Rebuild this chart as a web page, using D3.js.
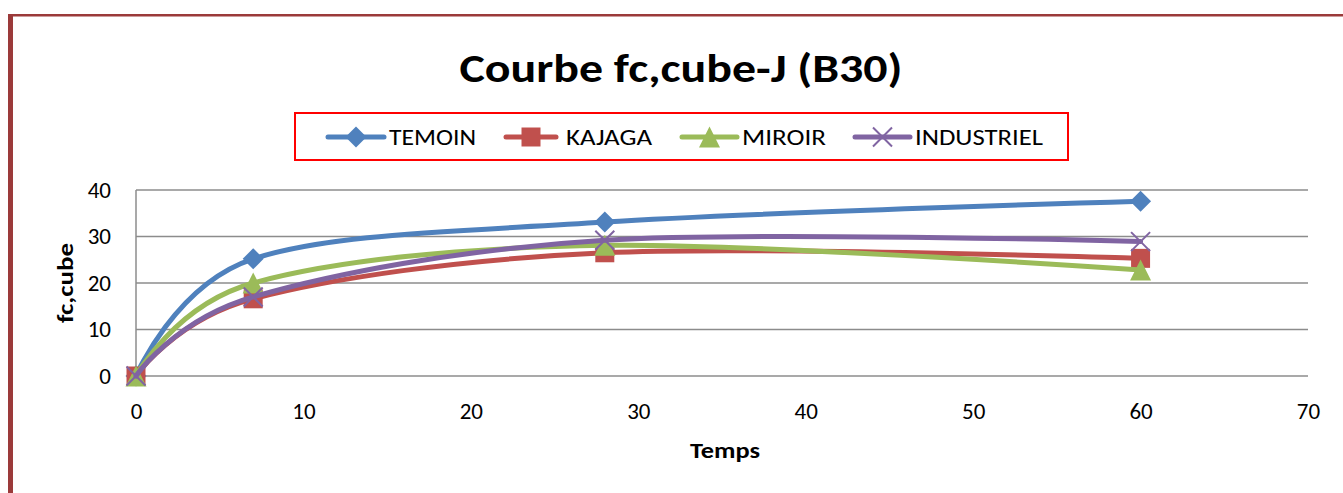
<!DOCTYPE html>
<html><head><meta charset="utf-8">
<script src="https://cdn.jsdelivr.net/npm/d3@7"></script>
<style>
html,body{margin:0;padding:0;background:#fff;}
svg{display:block;font-family:Carlito,Lato,"Open Sans",sans-serif;}
</style></head>
<body>
<script>
const days = [0, 7, 28, 60];
const seriesNames = ["TEMOIN", "KAJAGA", "MIROIR", "INDUSTRIEL"];
const temoin = [0, 25.2, 33.1, 37.6];
const kajaga = [0, 16.6, 26.5, 25.3];
const miroir = [0, 20.0, 28.1, 22.8];
const industriel = [0, 17.0, 29.2, 28.9];
const xTicks = [0, 10, 20, 30, 40, 50, 60, 70];
const yTicks = [0, 10, 20, 30, 40];
const colors = ["#4f81bd", "#c0504d", "#9bbb59", "#8064a2"];
const markers = ["diamond", "square", "triangle", "cross"];
const allValues = [temoin, kajaga, miroir, industriel];

const W = 1343, H = 493;
const FONT = "Carlito,Lato,'Open Sans',sans-serif";
const svg = d3.select("body").append("svg").attr("width", W).attr("height", H);

// outer border (dark red)
svg.append("rect").attr("x", 8).attr("y", 14).attr("width", W).attr("height", 2.5).attr("fill", "#9b3a3a");
svg.append("rect").attr("x", 8).attr("y", 14).attr("width", 5).attr("height", H).attr("fill", "#9b3a3a");

const x = d3.scaleLinear().domain([0, 70]).range([136, 1308]);
const y = d3.scaleLinear().domain([0, 40]).range([376, 190]);

// title
svg.append("text").attr("x", 681).attr("y", 82).attr("text-anchor", "middle")
  .attr("font-size", 40).attr("font-weight", "bold").attr("fill", "#000")
  .attr("textLength", 443).attr("lengthAdjust", "spacingAndGlyphs")
  .text("Courbe fc,cube-J (B30)");

// gridlines
svg.append("g").selectAll("line").data(yTicks).join("line")
  .attr("x1", x(0)).attr("x2", x(70))
  .attr("y1", d => y(d)).attr("y2", d => y(d))
  .attr("stroke", "#8c8c8c").attr("stroke-width", 1.5);
svg.append("line").attr("x1", x(0)).attr("x2", x(0)).attr("y1", y(0)).attr("y2", y(40))
  .attr("stroke", "#8c8c8c").attr("stroke-width", 1.5);

const yAxis = d3.axisLeft(y).tickValues(yTicks).tickSize(0).tickPadding(25);
const yg = svg.append("g").attr("transform", `translate(${x(0)},0)`).call(yAxis);
yg.select(".domain").remove();
yg.selectAll("text").attr("font-size", 23).attr("fill", "#000").attr("font-family", FONT);

const xAxis = d3.axisBottom(x).tickValues(xTicks).tickSize(0).tickPadding(27);
const xg = svg.append("g").attr("transform", `translate(0,${y(0)})`).call(xAxis);
xg.select(".domain").remove();
xg.selectAll("text").attr("font-size", 23).attr("fill", "#000").attr("font-family", FONT);

// axis titles
svg.append("text").attr("transform", "translate(73,283) rotate(-90)").attr("text-anchor", "middle")
  .attr("font-size", 23).attr("font-weight", "bold")
  .attr("textLength", 80).attr("lengthAdjust", "spacingAndGlyphs").text("fc,cube");
svg.append("text").attr("x", 725).attr("y", 458).attr("text-anchor", "middle")
  .attr("font-size", 23).attr("font-weight", "bold")
  .attr("textLength", 70).attr("lengthAdjust", "spacingAndGlyphs").text("Temps");

function markerPath(type, s) {
  const h = s / 2;
  if (type === "diamond") return `M0,${-h}L${h},0L0,${h}L${-h},0Z`;
  if (type === "square") return `M${-h},${-h}H${h}V${h}H${-h}Z`;
  if (type === "triangle") return `M0,${-h}L${h},${h}L${-h},${h}Z`;
  return `M${-h},${-h}L${h},${h}M${h},${-h}L${-h},${h}`;
}
function drawMarker(g, type, color, cx, cy) {
  const p = g.append("path").attr("transform", `translate(${cx},${cy})`);
  if (type === "cross") {
    p.attr("d", markerPath(type, 19)).attr("stroke", color).attr("stroke-width", 2).attr("fill", "none");
  } else if (type === "square") {
    p.attr("d", markerPath(type, 19)).attr("fill", color);
  } else {
    p.attr("d", markerPath(type, 21)).attr("fill", color);
  }
}

const line = d3.line().x(d => x(d[0])).y(d => y(d[1])).curve(d3.curveCardinal.tension(0));

allValues.forEach((vals, i) => {
  const pts = days.map((d, j) => [d, vals[j]]);
  const g = svg.append("g");
  g.append("path").attr("d", line(pts)).attr("fill", "none")
    .attr("stroke", colors[i]).attr("stroke-width", 5).attr("stroke-linejoin", "round").attr("stroke-linecap", "round");
  pts.forEach(p => drawMarker(g, markers[i], colors[i], x(p[0]), y(p[1])));
});

// legend
svg.append("rect").attr("x", 295).attr("y", 113).attr("width", 773).attr("height", 47)
  .attr("fill", "none").attr("stroke", "#ff0000").attr("stroke-width", 2);
const legLine = [[328, 384], [506, 556], [682, 737], [855, 910]];
const legText = [[389, 87], [566, 86], [742, 84], [915, 128]];
seriesNames.forEach((name, i) => {
  const g = svg.append("g");
  const cy = 137;
  g.append("line").attr("x1", legLine[i][0]).attr("x2", legLine[i][1]).attr("y1", cy).attr("y2", cy)
    .attr("stroke", colors[i]).attr("stroke-width", 5).attr("stroke-linecap", "round");
  drawMarker(g, markers[i], colors[i], (legLine[i][0] + legLine[i][1]) / 2, cy);
  g.append("text").attr("x", legText[i][0]).attr("y", cy + 8).attr("font-size", 22)
    .attr("textLength", legText[i][1]).attr("lengthAdjust", "spacingAndGlyphs")
    .text(name);
});
</script>
</body></html>
